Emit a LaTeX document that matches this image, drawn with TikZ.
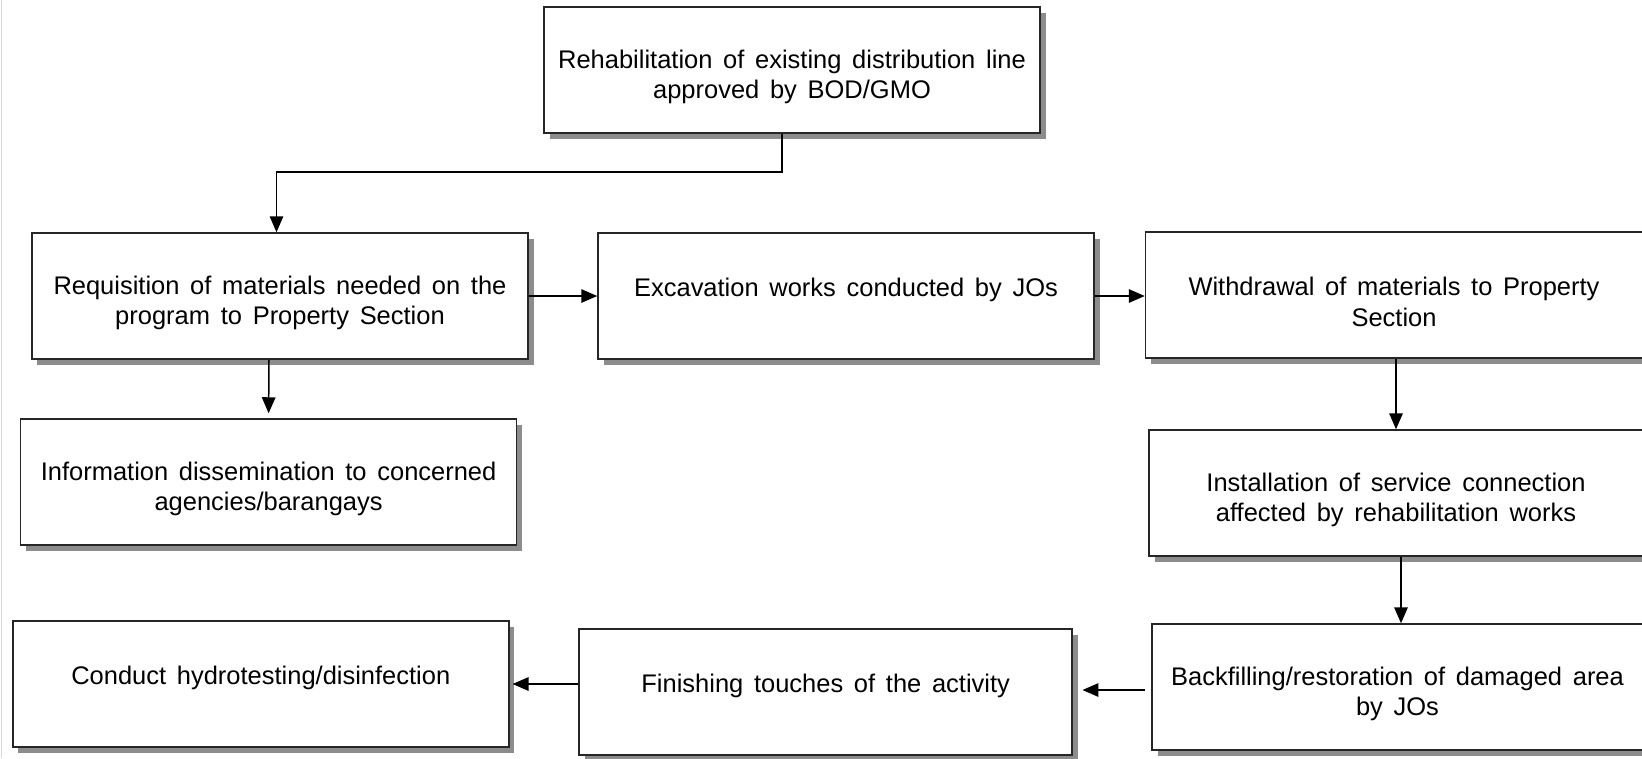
\documentclass[tikz,border=0pt]{standalone}
\usepackage{fontspec}
\setmainfont{Liberation Sans}
\usetikzlibrary{arrows.meta,shadows}
\newcommand\boxstrut{\setlength{\spaceskip}{0.42em plus 0.1em}\rule{0pt}{35.5pt}}

\begin{document}
\begin{tikzpicture}
    [x=0.2mm,y=-0.2mm,>={Triangle[length=3.2mm,width=2.7mm]},
     every node/.style={draw=black!85,line width=0.3mm,fill=white,
       minimum width=99.2mm,minimum height=25.2mm,align=center,
       font=\fontsize{14.5}{17.2}\selectfont,
       execute at begin node=\boxstrut,
       drop shadow={shadow xshift=1.1mm,shadow yshift=-1.1mm,fill=black!45,opacity=1}},
     flow/.style={->,line width=0.3mm}]
    \useasboundingbox (0,0) rectangle (1642,758);
    \draw[black!15] (1,0) -- (1,758);

    \node (rehab) at (792,70) {Rehabilitation of existing distribution line\\approved by BOD/GMO};
    \node (req) at (280,296) {Requisition of materials needed on the\\program to Property Section};
    \node (excav) at (846,296) {Excavation works conducted by JOs\\\mbox{}};
    \node[minimum width=99.4mm] (withd) at (1394,295) {Withdrawal of materials to Property\\Section};
    \node[minimum width=98.8mm] (install) at (1396,493) {Installation of service connection\\affected by rehabilitation works};
    \node[minimum width=98.2mm] (backfill) at (1397.5,687) {Backfilling/restoration of damaged area\\by JOs};
    \node[minimum width=98.6mm] (finish) at (825.7,692) {Finishing touches of the activity\\\mbox{}};
    \node (hydro) at (260.8,684) {Conduct hydrotesting/disinfection\\\mbox{}};
    \node (info) at (268.6,482) {Information dissemination to concerned\\agencies/barangays};

    \draw[flow] ([xshift=-2mm]rehab.south) -- ++(0,38) -| ([xshift=-0.7mm]req.north);
    \draw[flow] (req) -- (excav);
    \draw[flow] ([xshift=-2.2mm]req.south) -- ([yshift=1mm]info.north);
    \draw[flow] (excav.east) -- (excav.east -| withd.west);
    \draw[flow] (withd.south -| install.north) -- (install.north);
    \draw[flow] ([xshift=1mm]install.south) -- ([xshift=1mm]install.south |- backfill.north);
    \draw[flow] ([xshift=-1.2mm,yshift=-0.6mm]backfill.west) -- ([xshift=1.9mm,yshift=-0.6mm]backfill.west -| finish.east);
    \draw[flow] (hydro.east -| finish.west) -- ([xshift=0.6mm]hydro.east);
\end{tikzpicture}
\end{document}
